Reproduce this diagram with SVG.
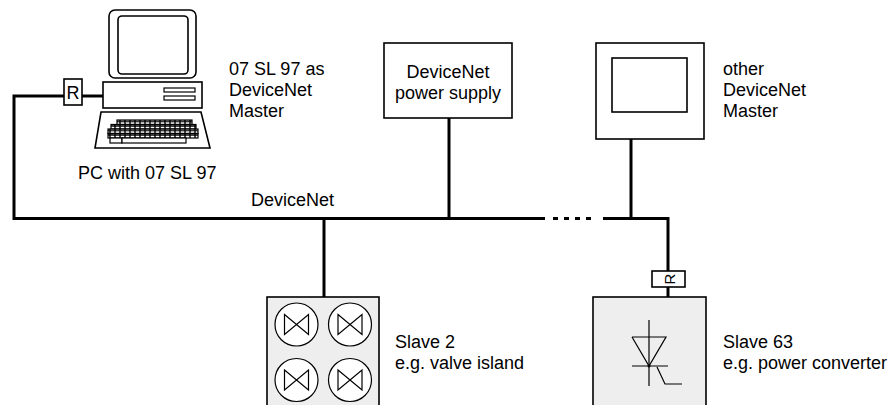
<svg xmlns="http://www.w3.org/2000/svg" width="893" height="405" viewBox="0 0 893 405">
  <style>
    .lbl { font-family: "Liberation Sans", Arial, sans-serif; font-size: 18px; fill: #000; }
    .mid { text-anchor: middle; }
    .box { fill: #fff; stroke: #000; stroke-width: 1.6; }
    .slave { fill: #eeeeee; stroke: #000; stroke-width: 1.6; }
    .thin { fill: none; stroke: #000; stroke-width: 1.2; }
    .bus { fill: none; stroke: #000; stroke-width: 3; }
  </style>
  <defs>
    <pattern id="keys" patternUnits="userSpaceOnUse" x="0" y="0" width="5" height="4.5">
      <rect x="0" y="0" width="5" height="4.5" fill="#fff" stroke="#000" stroke-width="1.4"/>
    </pattern>
    <g id="valve">
      <circle cx="0" cy="0" r="21.5" fill="#fff" stroke="#000" stroke-width="1.2"/>
      <path d="M-12,-10 L12,10 L12,-10 L-12,10 Z" fill="none" stroke="#000" stroke-width="1.2"/>
    </g>
  </defs>
  <rect x="0" y="0" width="893" height="405" fill="#fff"/>

  <!-- bus cabling -->
  <g id="connectors">
    <polyline class="bus" points="64,96 14,96 14,218.5 545,218.5"/>
    <line class="bus" x1="82" y1="96" x2="103" y2="96"/>
    <line class="bus" x1="553" y1="218.5" x2="594" y2="218.5" stroke-dasharray="5,6"/>
    <polyline class="bus" points="603,218.5 668,218.5 668,271"/>
    <line class="bus" x1="668" y1="287" x2="668" y2="297"/>
    <line class="bus" x1="449" y1="118" x2="449" y2="218.5"/>
    <line class="bus" x1="631" y1="139" x2="631" y2="218.5"/>
    <line class="bus" x1="324" y1="218.5" x2="324" y2="297"/>
    <text class="lbl" x="251" y="206">DeviceNet</text>
  </g>

  <!-- PC running 07 SL 97 -->
  <g id="pc">
    <rect class="box" x="109" y="10" width="87" height="68" rx="6"/>
    <rect class="box" x="118" y="16" width="70" height="58" rx="4"/>
    <rect class="box" x="103" y="82" width="99" height="26"/>
    <rect class="thin" x="164" y="88" width="31" height="4"/>
    <rect class="thin" x="164" y="96" width="31" height="4"/>
    <polygon class="box" points="101,112 201,112 210,148 95,148"/>
    <rect x="117" y="120" width="75" height="4.5" fill="url(#keys)" stroke="#000" stroke-width="1.2"/>
    <rect x="111" y="124.5" width="85" height="4.5" fill="url(#keys)" stroke="#000" stroke-width="1.2"/>
    <rect x="108" y="129" width="90" height="4.5" fill="url(#keys)" stroke="#000" stroke-width="1.2"/>
    <rect x="108" y="133.5" width="90" height="4.5" fill="url(#keys)" stroke="#000" stroke-width="1.2"/>
    <rect x="110" y="138" width="12" height="5" fill="#fff" stroke="#000" stroke-width="1.2"/>
    <rect x="122" y="138" width="64" height="5" fill="#fff" stroke="#000" stroke-width="1.2"/>
    <text class="lbl" x="78" y="179">PC with 07 SL 97</text>
    <text class="lbl" x="229" y="75">07 SL 97 as</text>
    <text class="lbl" x="229" y="96">DeviceNet</text>
    <text class="lbl" x="229" y="117">Master</text>
  </g>

  <!-- terminating resistor at the PC -->
  <g id="r-pc">
    <rect class="box" x="64" y="79" width="18" height="26"/>
    <text class="lbl mid" x="73" y="99">R</text>
  </g>

  <!-- bus power supply -->
  <g id="power-supply">
    <rect class="box" x="384" y="43" width="128" height="75"/>
    <text class="lbl mid" x="448" y="78">DeviceNet</text>
    <text class="lbl mid" x="448" y="99">power supply</text>
  </g>

  <!-- second master station -->
  <g id="other-master">
    <rect class="box" x="596" y="43" width="108" height="96"/>
    <rect class="box" x="612" y="58" width="75" height="54"/>
    <text class="lbl" x="723" y="75">other</text>
    <text class="lbl" x="723" y="96">DeviceNet</text>
    <text class="lbl" x="723" y="117">Master</text>
  </g>

  <!-- slave 2: valve island -->
  <g id="slave-2">
    <rect class="slave" x="267" y="297" width="112" height="120"/>
    <use href="#valve" x="296.5" y="324.5"/>
    <use href="#valve" x="350" y="324.5"/>
    <use href="#valve" x="296.5" y="380"/>
    <use href="#valve" x="350" y="380"/>
    <text class="lbl" x="395" y="348">Slave 2</text>
    <text class="lbl" x="395" y="369">e.g. valve island</text>
  </g>

  <!-- terminating resistor at slave 63 -->
  <g id="r-slave">
    <rect class="box" x="652" y="271" width="33" height="16"/>
    <text class="lbl mid" transform="translate(674.5,279) rotate(-90)" x="0" y="0" style="font-size:15px">R</text>
  </g>

  <!-- slave 63: power converter -->
  <g id="slave-63">
    <rect class="slave" x="593" y="297" width="113" height="120"/>
    <line class="thin" x1="649" y1="320" x2="649" y2="386"/>
    <polyline class="thin" points="632,337 666,337 649,366 632,337"/>
    <line class="thin" x1="632" y1="366" x2="668" y2="366"/>
    <polyline class="thin" points="657,367 665,384 682,384"/>
    <circle cx="649" cy="366" r="1.5" fill="#000"/>
    <text class="lbl" x="723" y="348">Slave 63</text>
    <text class="lbl" x="723" y="369">e.g. power converter</text>
  </g>
</svg>
